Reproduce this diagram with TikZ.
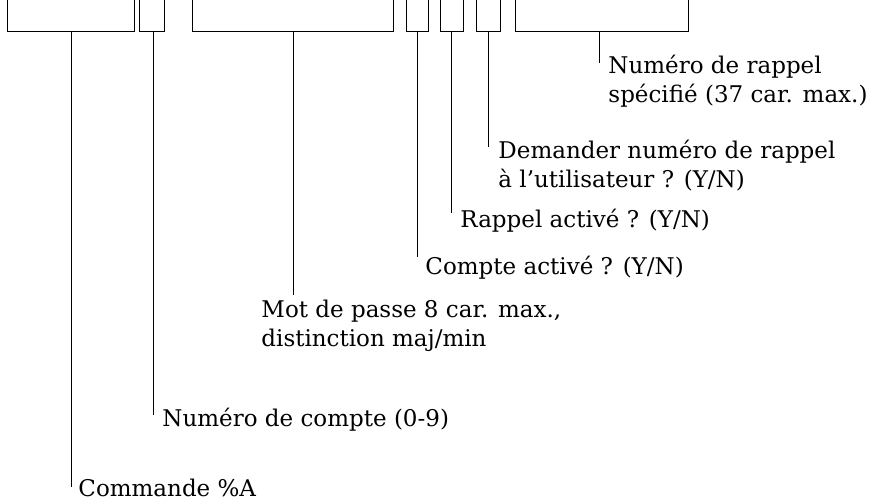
\documentclass[tikz,border=0pt]{standalone}
\usepackage{fontspec}
\setmainfont{DejaVu Serif}
\usetikzlibrary{calc}

\begin{document}
\begin{tikzpicture}[x=1pt,y=-1pt,line width=0.9pt,
  lbl/.style={anchor=base west,inner sep=0pt,align=left,font=\fontsize{23}{29.5}\selectfont}]
\useasboundingbox (0,0) rectangle (871,502);
% accolades du haut
\draw (7,0) |- (134,31) -- (134,0);
\draw (139,0) |- (164,31) -- (164,0);
\draw (192,0) |- (393,31) -- (393,0);
\draw (406,0) |- (428,31) -- (428,0);
\draw (440,0) |- (463,31) -- (463,0);
\draw (476,0) |- (500,31) -- (500,0);
\draw (515,0) |- (688,31) -- (688,0);
\coordinate (b1) at (71,31);  \coordinate (e1) at (71,487);
\coordinate (b2) at (153,31); \coordinate (e2) at (153,415);
\coordinate (b3) at (293,31); \coordinate (e3) at (293,295);
\coordinate (b4) at (417,31); \coordinate (e4) at (417,257);
\coordinate (b5) at (451,31); \coordinate (e5) at (451,213);
\coordinate (b6) at (488,31); \coordinate (e6) at (488,147);
\coordinate (b7) at (599,31); \coordinate (e7) at (599,63);
% textes (base = derniere ligne)
\node[lbl] (cmd) at (78,497) {Commande \%A};
\node[lbl] (cpt) at (162,427) {Numéro de compte (0-9)};
\node[lbl] (mdp) at (261,347) {Mot de passe 8 car. max.,\\distinction maj/min};
\node[lbl] (act) at (425,275) {Compte activé ? (Y/N)};
\node[lbl] (rap) at (460,228) {Rappel activé ? (Y/N)};
\node[lbl] (dem) at (498,188) {Demander numéro de rappel\\à l’utilisateur ? (Y/N)};
\node[lbl] (num) at (608,103) {Numéro de rappel\\spécifié (37 car. max.)};
% traits
\foreach \i in {1,...,7} \draw (b\i) -- (e\i);
\end{tikzpicture}
\end{document}
